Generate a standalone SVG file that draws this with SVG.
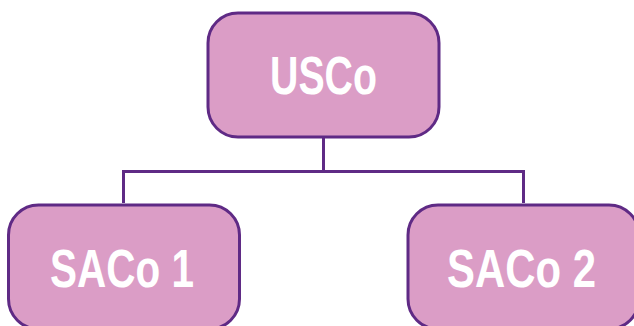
<svg xmlns="http://www.w3.org/2000/svg" width="634" height="326" viewBox="0 0 634 326">
<style>
.box{fill:#DB9DC6;stroke:#5F2A85;stroke-width:3}
.lbl{fill:#FFFFFF;font-family:"Liberation Sans",Arial,sans-serif;font-weight:bold;font-size:53px;text-anchor:middle}
.con{fill:none;stroke:#5F2A85;stroke-width:3}
</style>
<rect width="634" height="326" fill="#FFFFFF"/>
<g id="connectors">
<path class="con" d="M323.5 137 V171.5 M123.5 203 V171.5 H523.5 V203"/>
</g>
<g id="usco">
<rect class="box" x="208" y="13" width="231" height="124" rx="30"/>
<text class="lbl" x="323.5" y="94" textLength="107" lengthAdjust="spacingAndGlyphs">USCo</text>
</g>
<g id="saco1">
<rect class="box" x="8.5" y="205" width="231" height="124" rx="30"/>
<text class="lbl" x="122" y="287" textLength="144" lengthAdjust="spacingAndGlyphs">SACo 1</text>
</g>
<g id="saco2">
<rect class="box" x="408" y="205" width="231" height="124" rx="30"/>
<text class="lbl" x="521.5" y="287" textLength="149" lengthAdjust="spacingAndGlyphs">SACo 2</text>
</g>
</svg>
